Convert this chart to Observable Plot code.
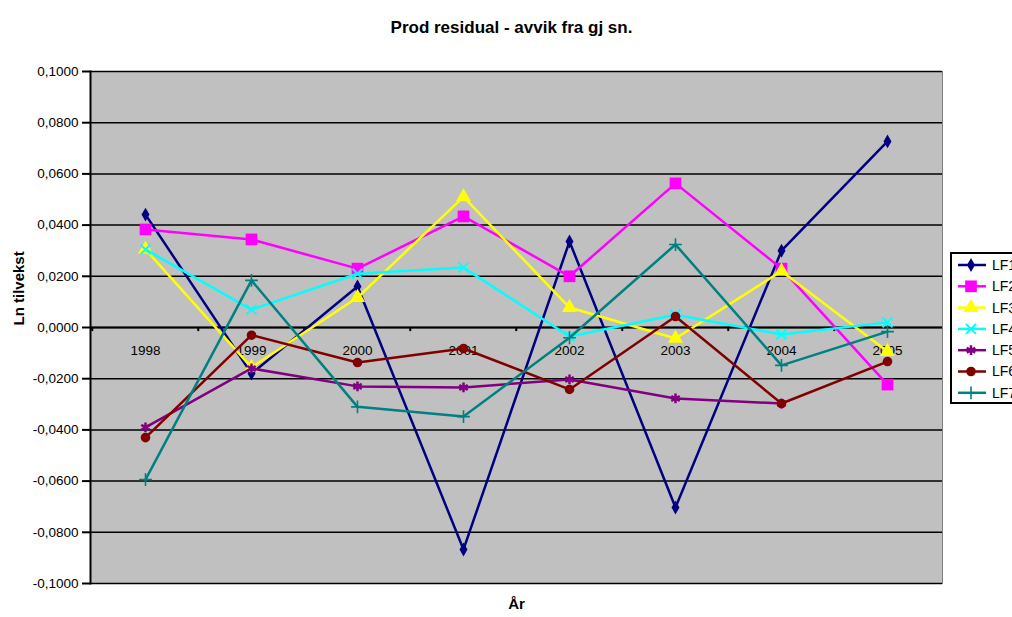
<!DOCTYPE html>
<html>
<head>
<meta charset="utf-8">
<script src="https://cdn.jsdelivr.net/npm/d3@7"></script>
<script src="https://cdn.jsdelivr.net/npm/@observablehq/plot@0.6"></script>
<style>
  html, body { margin: 0; padding: 0; background: #fff; }
  #wrap { position: relative; width: 1012px; height: 617px; overflow: hidden; font-family: "Liberation Sans", Arial, sans-serif; }
  #legend { position: absolute; left: 950px; top: 252px; }
</style>
</head>
<body>
<div id="wrap"><div id="chart"></div><div id="legend"></div></div>
<script>
const years = ["1998", "1999", "2000", "2001", "2002", "2003", "2004", "2005"];
const seriesNames = ["LF1", "LF2", "LF3", "LF4", "LF5", "LF6", "LF7"];
const lf1 = [0.0441, -0.0180, 0.0160, -0.0867, 0.0336, -0.0703, 0.0300, 0.0727];
const lf2 = [0.0383, 0.0344, 0.0230, 0.0434, 0.0200, 0.0563, 0.0230, -0.0223];
const lf3 = [0.0305, -0.0156, 0.0117, 0.0510, 0.0078, -0.0043, 0.0220, -0.0094];
const lf4 = [0.0305, 0.0070, 0.0210, 0.0234, -0.0035, 0.0050, -0.0027, 0.0020];
const lf5 = [-0.0390, -0.0160, -0.0230, -0.0234, -0.0203, -0.0277, -0.0297, null];
const lf6 = [-0.0430, -0.0030, -0.0137, -0.0082, -0.0242, 0.0043, -0.0297, -0.0133];
const lf7 = [-0.0594, 0.0184, -0.0310, -0.0348, -0.0040, 0.0324, -0.0148, -0.0016];
const yTicks = [-0.1, -0.08, -0.06, -0.04, -0.02, 0, 0.02, 0.04, 0.06, 0.08, 0.1];
const title = "Prod residual - avvik fra gj sn.";
const yTitle = "Ln tilvekst";
const xTitle = "År";

const allValues = [lf1, lf2, lf3, lf4, lf5, lf6, lf7];
const colors = ["#000080", "#FF00FF", "#FFFF00", "#00FFFF", "#800080", "#800000", "#008080"];
const symbols = ["diamond", "square", "triangle", "times", "asterisk", "circle", "plus"];
const radii = [4.2, 6.6, 5.6, 4.6, 4.6, 4.8, 4.2];
const filled = [true, true, true, false, false, true, false];
const strokeW = [0, 0, 0, 2, 2.5, 0, 1.6];

const rows = seriesNames.flatMap((s, i) => years.map((y, j) => ({series: s, idx: i, year: y, value: allValues[i][j]})));

const W = 1012, H = 617, mL = 90, mR = 70, mT = 71, mB = 34;
const step = (W - mL - mR) / years.length;
const fmt = d => (d < 0 ? "-" : "") + Math.abs(d).toFixed(4).replace(".", ",");
const FONT = "'Liberation Sans', Arial, sans-serif";

const marks = [
  Plot.frame({fill: "#c0c0c0", stroke: "#808080"}),
  Plot.ruleY(yTicks, {stroke: "black", strokeWidth: 1.5}),
  Plot.ruleY([0], {stroke: "black", strokeWidth: 2}),
  Plot.ruleX(years, {x: d => d, dx: -step / 2, y1: () => 0, y2: () => -0.0016, stroke: "black", strokeWidth: 2}),
  Plot.frame({anchor: "left", stroke: "black", strokeWidth: 2}),
  Plot.axisY({ticks: yTicks, tickFormat: fmt, tickSize: 8, tickPadding: 4, label: null, fontSize: 13.5, stroke: "black", strokeWidth: 2}),
  Plot.text(years, {x: d => d, y: () => 0, dy: 23, text: d => d, fontSize: 13.5, fill: "black"}),
  Plot.text([title], {frameAnchor: "top", dy: -51, dx: -5, fontSize: 17, fontWeight: "bold"}),
  Plot.text([yTitle], {frameAnchor: "left", dx: -71, dy: -2, rotate: -90, fontSize: 15, fontWeight: "bold"}),
  Plot.text([xTitle], {frameAnchor: "bottom", dy: 25, fontSize: 15, fontWeight: "bold"})
];

seriesNames.forEach((s, i) => {
  const data = rows.filter(r => r.idx === i);
  marks.push(Plot.line(data, {x: "year", y: "value", stroke: colors[i], strokeWidth: 2.5}));
  marks.push(Plot.dot(data.filter(r => r.value != null), {
    x: "year", y: "value", symbol: symbols[i], r: radii[i],
    fill: filled[i] ? colors[i] : "none",
    stroke: filled[i] ? "none" : colors[i],
    strokeWidth: strokeW[i]
  }));
});

const chart = Plot.plot({
  width: W, height: H,
  marginLeft: mL, marginRight: mR, marginTop: mT, marginBottom: mB,
  style: {fontFamily: FONT, fontSize: "13.5px", background: "white", color: "black"},
  x: {type: "point", domain: years, padding: 0.5, axis: null},
  y: {domain: [-0.1, 0.1], axis: null},
  marks
});
document.getElementById("chart").appendChild(chart);

// Legend (to the right, clipped by the page edge as in the reference)
const lg = d3.select("#legend").append("svg").attr("width", 70).attr("height", 153);
lg.append("rect").attr("x", 1).attr("y", 1).attr("width", 90).attr("height", 150)
  .attr("fill", "white").attr("stroke", "black").attr("stroke-width", 2);
const symMap = {diamond: d3.symbolDiamond, square: d3.symbolSquare, triangle: d3.symbolTriangle,
  times: d3.symbolTimes, asterisk: d3.symbolAsterisk, circle: d3.symbolCircle, plus: d3.symbolPlus};
seriesNames.forEach((s, i) => {
  const cy = 13 + i * 21.3;
  lg.append("line").attr("x1", 8).attr("x2", 36).attr("y1", cy).attr("y2", cy)
    .attr("stroke", colors[i]).attr("stroke-width", 2.5);
  lg.append("path").attr("transform", `translate(21,${cy})`)
    .attr("d", d3.symbol(symMap[symbols[i]], Math.PI * radii[i] * radii[i])())
    .attr("fill", filled[i] ? colors[i] : "none")
    .attr("stroke", filled[i] ? "none" : colors[i])
    .attr("stroke-width", strokeW[i]);
  lg.append("text").attr("x", 42).attr("y", cy).attr("dy", "0.35em")
    .attr("font-size", 14).attr("font-family", FONT).text(s);
});
</script>
</body>
</html>
